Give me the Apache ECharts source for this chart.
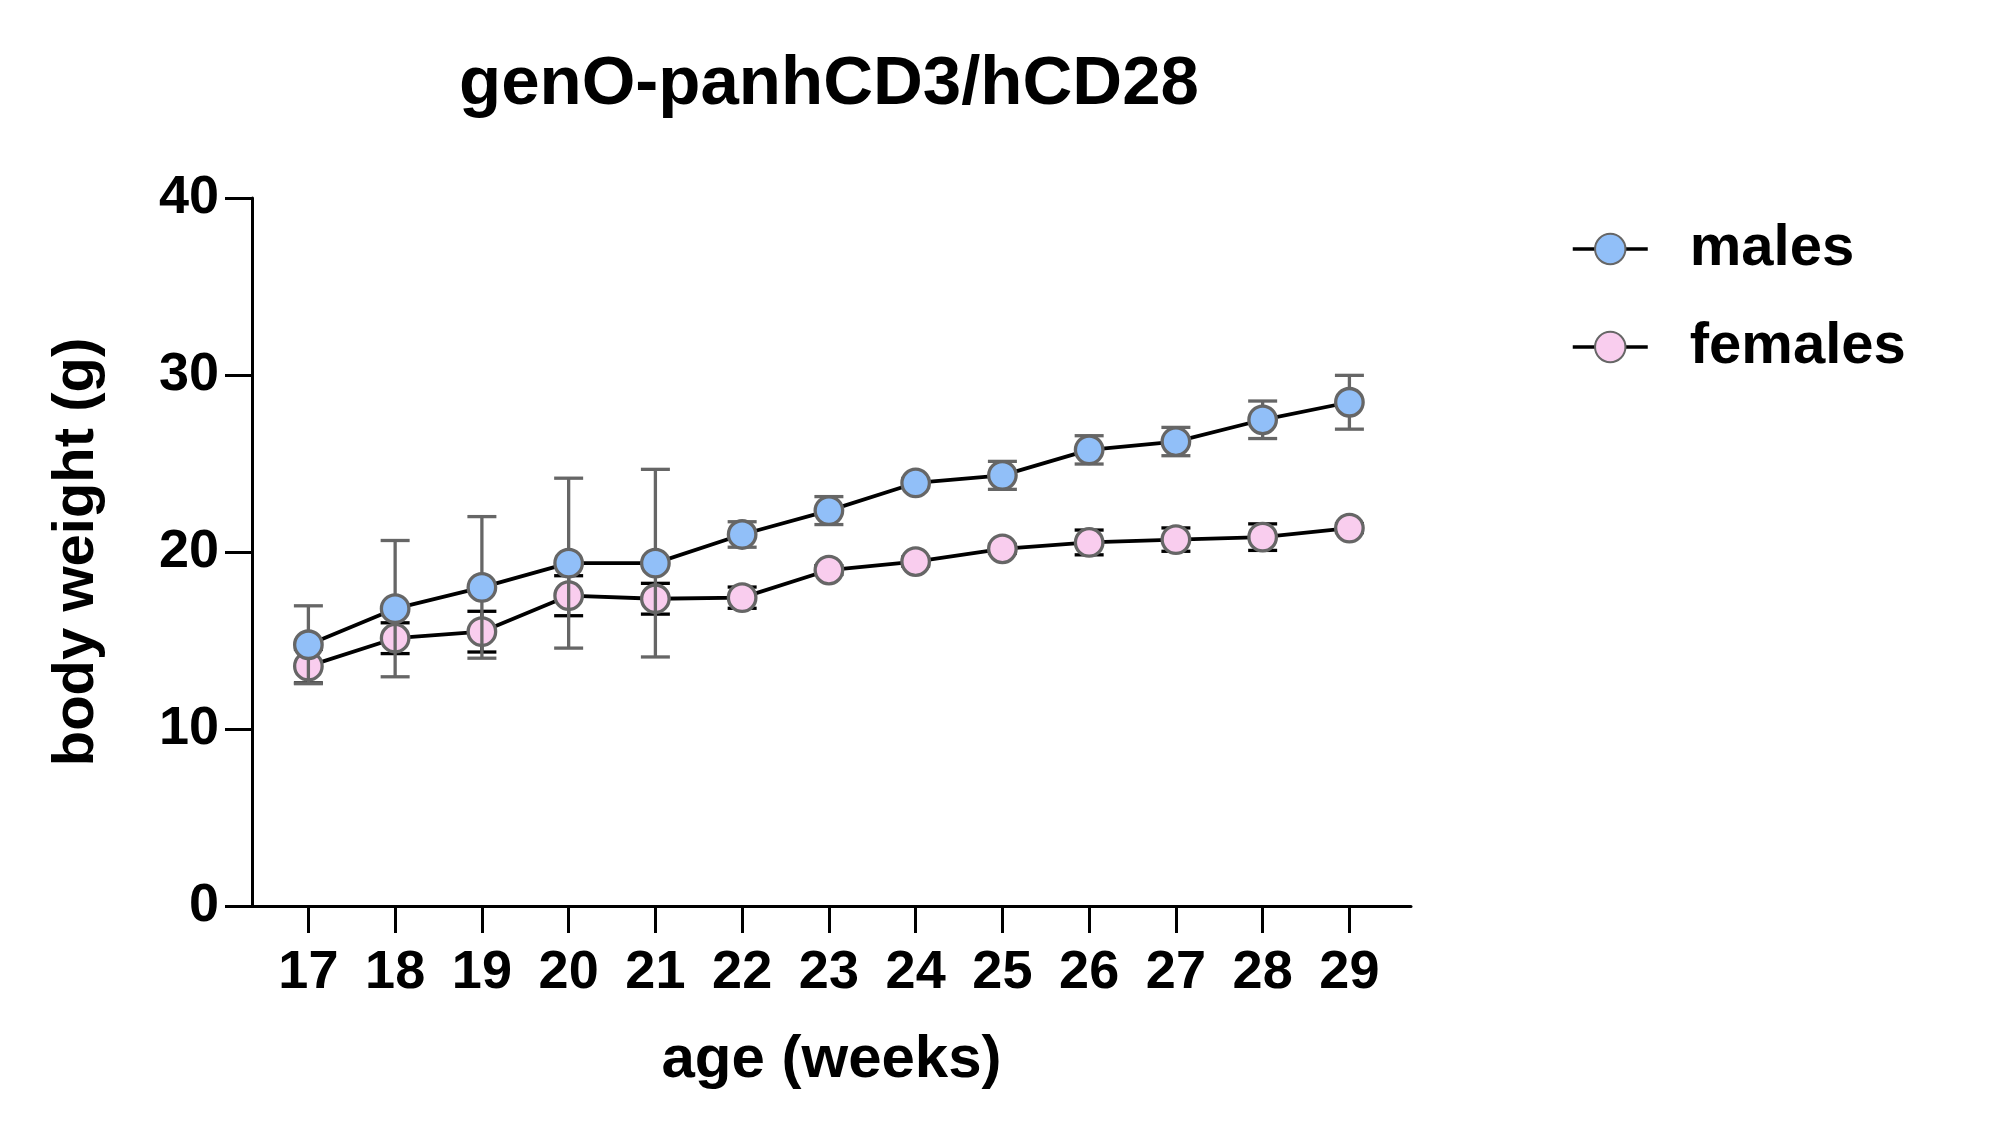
<!DOCTYPE html>
<html>
<head>
<meta charset="utf-8">
<script src="https://cdn.jsdelivr.net/npm/echarts@6/dist/echarts.min.js"></script>
<style>html,body{margin:0;padding:0;background:#fff;}#chart{width:2000px;height:1147px;}</style>
</head>
<body>
<div id="chart"></div>
<script>
const weeks = [17, 18, 19, 20, 21, 22, 23, 24, 25, 26, 27, 28, 29];
const yTicks = [0, 10, 20, 30, 40];
const males = [14.76, 16.8, 18.0, 19.37, 19.37, 20.99, 22.34, 23.9, 24.33, 25.77, 26.24, 27.47, 28.46];
const malesSD = [2.2, 3.85, 4.0, 4.8, 5.3, 0.72, 0.79, 0.25, 0.79, 0.8, 0.8, 1.06, 1.52];
const females = [13.55, 15.13, 15.5, 17.53, 17.36, 17.42, 18.98, 19.46, 20.18, 20.54, 20.7, 20.84, 21.35];
const femalesSD = [0.95, 0.87, 1.15, 1.13, 0.87, 0.6, 0.25, 0.25, 0.25, 0.7, 0.66, 0.75, 0.25];

const FONT = '"Liberation Sans", Arial, Helvetica, sans-serif';
const chart = echarts.init(document.getElementById('chart'), null, {renderer: 'canvas'});

function errData(vals, sds) {
  return weeks.map((w, i) => [w, vals[i] - sds[i], vals[i] + sds[i]]);
}
function errRender(color) {
  return function (params, api) {
    const x = api.value(0);
    const lo = api.coord([x, api.value(1)]);
    const hi = api.coord([x, api.value(2)]);
    const hw = 14.5;
    const st = {stroke: color, lineWidth: 3.3};
    return {
      type: 'group',
      children: [
        {type: 'line', shape: {x1: hi[0], y1: hi[1], x2: lo[0], y2: lo[1]}, style: st},
        {type: 'line', shape: {x1: hi[0] - hw, y1: hi[1], x2: hi[0] + hw, y2: hi[1]}, style: st},
        {type: 'line', shape: {x1: lo[0] - hw, y1: lo[1], x2: lo[0] + hw, y2: lo[1]}, style: st}
      ]
    };
  };
}

const option = {
  backgroundColor: '#fff',
  animation: false,
  title: {
    text: 'genO-panhCD3/hCD28',
    left: 454, top: 45,
    textStyle: {fontFamily: FONT, fontWeight: 'bold', fontSize: 69, color: '#000'}
  },
  legend: {
    data: ['males', 'females'],
    orient: 'vertical',
    left: 1571, top: 220,
    itemWidth: 75, itemHeight: 38, itemGap: 40,
    padding: 0,
    lineStyle: {width: 3.5, color: '#000'},
    textStyle: {fontFamily: FONT, fontWeight: 'bold', fontSize: 58, color: '#000', padding: [0, 0, 0, 37]}
  },
  grid: {left: 252, right: 589, top: 198, bottom: 241, containLabel: false},
  xAxis: {
    type: 'value', min: 16.35, max: 29.71,
    name: 'age (weeks)', nameLocation: 'middle', nameGap: 124,
    nameTextStyle: {fontFamily: FONT, fontWeight: 'bold', fontSize: 60, color: '#000'},
    axisLine: {lineStyle: {color: '#000', width: 3}},
    axisTick: {show: true, length: 27, lineStyle: {color: '#000', width: 3}, customValues: weeks},
    axisLabel: {margin: 40, fontFamily: FONT, fontWeight: 'bold', fontSize: 54, color: '#000', customValues: weeks},
    splitLine: {show: false}
  },
  yAxis: {
    type: 'value', min: 0, max: 40, interval: 10,
    name: 'body weight (g)', nameLocation: 'middle', nameGap: 146, nameRotate: 90,
    nameTextStyle: {fontFamily: FONT, fontWeight: 'bold', fontSize: 58, color: '#000'},
    axisLine: {show: true, lineStyle: {color: '#000', width: 3}},
    axisTick: {show: true, length: 27, lineStyle: {color: '#000', width: 3}},
    axisLabel: {margin: 33, fontFamily: FONT, fontWeight: 'bold', fontSize: 54, color: '#000', customValues: yTicks},
    splitLine: {show: false}
  },
  series: [
    {
      name: 'femalesErr', type: 'custom', z: 1,
      renderItem: errRender('#000'),
      encode: {x: 0, y: [1, 2]},
      data: errData(females, femalesSD),
      silent: true
    },
    {
      name: 'females', type: 'line', z: 2,
      data: weeks.map((w, i) => [w, females[i]]),
      symbol: 'circle', symbolSize: 27.5,
      lineStyle: {color: '#000', width: 3.8},
      itemStyle: {color: '#f9cdee', borderColor: '#666', borderWidth: 3.3}
    },
    {
      name: 'malesErr', type: 'custom', z: 3,
      renderItem: errRender('#666'),
      encode: {x: 0, y: [1, 2]},
      data: errData(males, malesSD),
      silent: true
    },
    {
      name: 'males', type: 'line', z: 4,
      data: weeks.map((w, i) => [w, males[i]]),
      symbol: 'circle', symbolSize: 27.5,
      lineStyle: {color: '#000', width: 3.8},
      itemStyle: {color: '#91bff8', borderColor: '#666', borderWidth: 3.3}
    }
  ]
};
chart.setOption(option);
</script>
</body>
</html>
